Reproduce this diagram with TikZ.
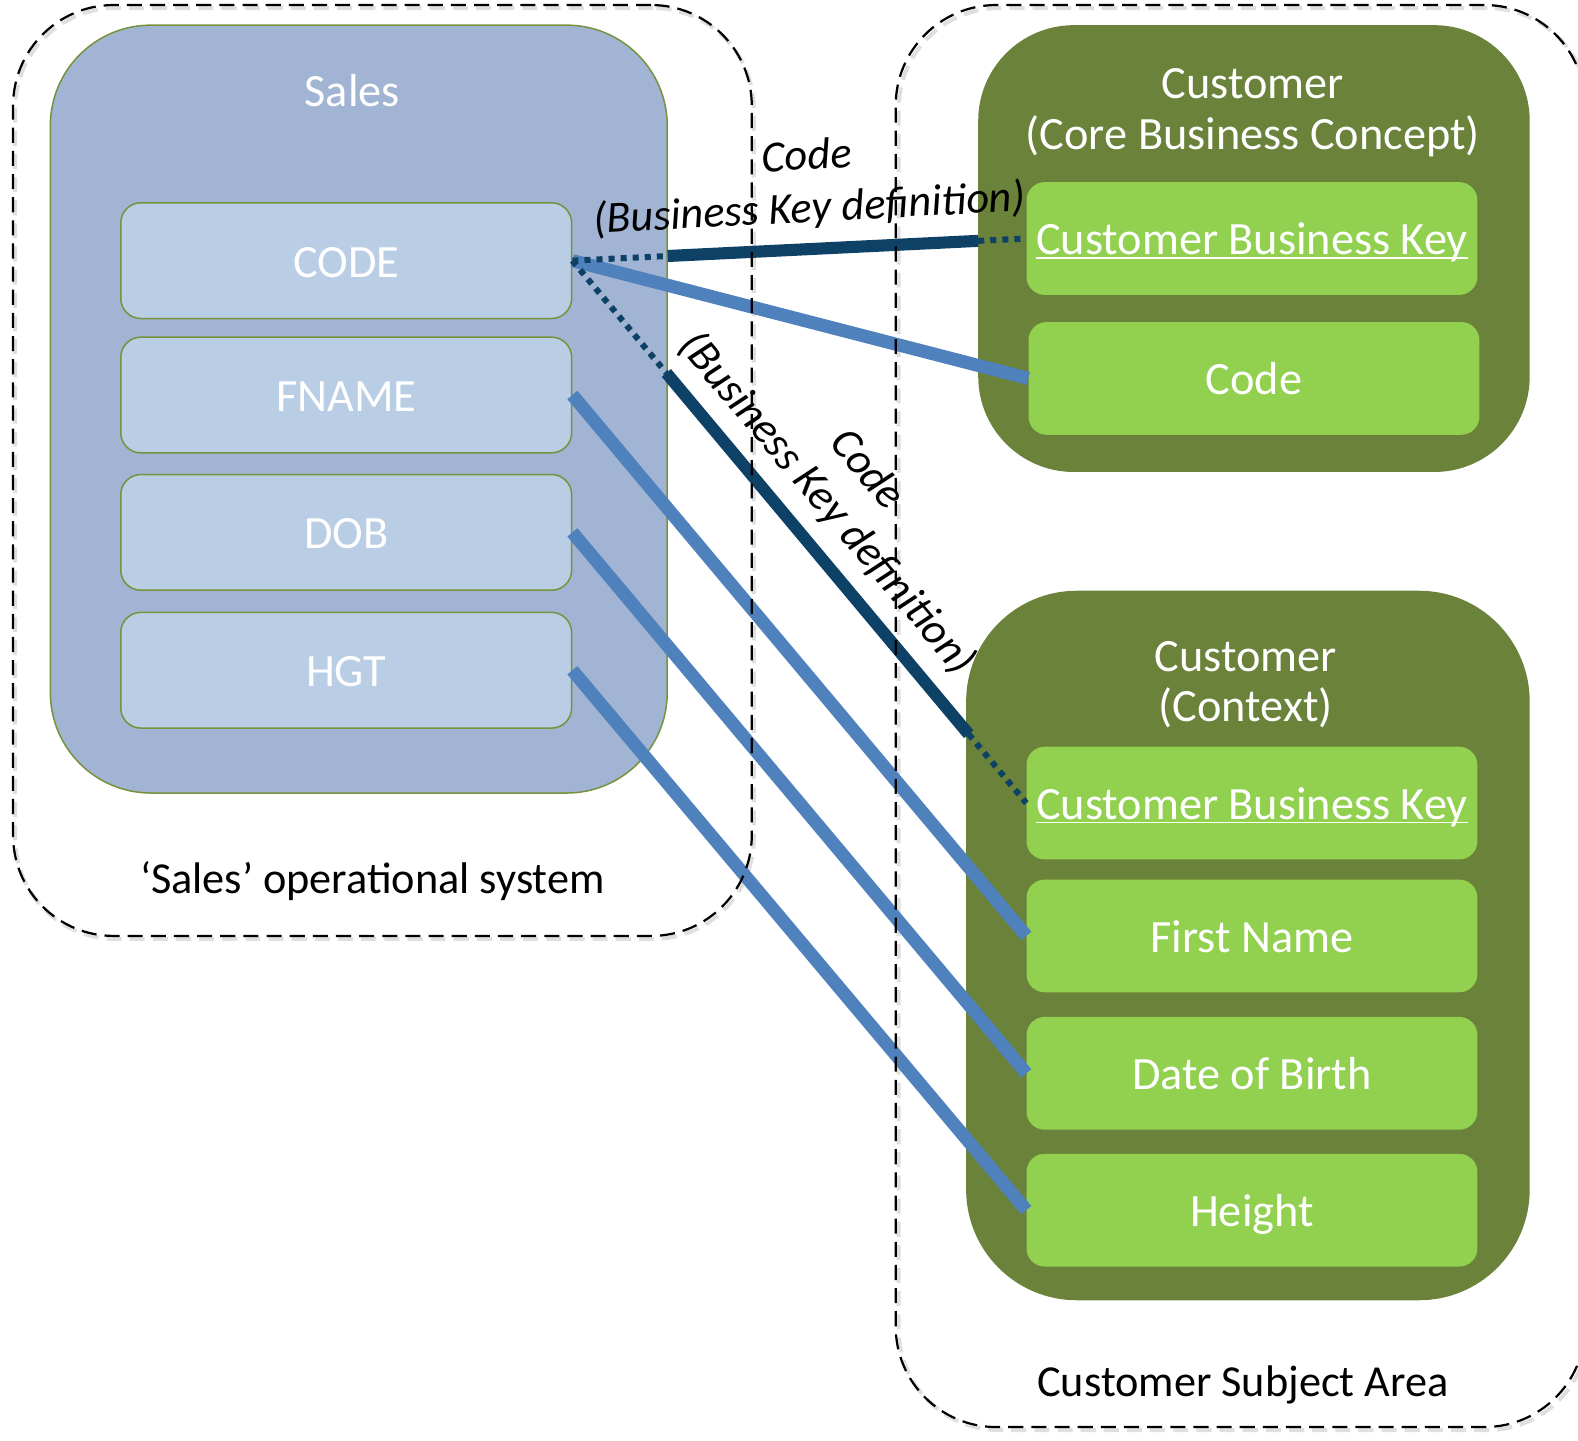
\documentclass[tikz,border=0pt]{standalone}
\usepackage{fontspec}
\setmainfont{Carlito}
\definecolor{cSales}{RGB}{161,180,212}
\definecolor{cOlive}{RGB}{118,146,60}
\definecolor{cField}{RGB}{185,205,229}
\definecolor{cDark}{RGB}{106,130,58}
\definecolor{cLight}{RGB}{146,208,80}
\definecolor{cLink}{RGB}{79,129,189}
\definecolor{cNavy}{RGB}{14,65,102}
\newcommand\myul[1]{\setbox0\hbox{#1}\rlap{\rule[-4pt]{\wd0}{1.6pt}}\box0}
\tikzset{
  cont/.style={rectangle, draw=black, line width=2.2pt, dash pattern=on 15pt off 8pt, rounded corners=100pt, inner sep=0pt},
  contshadow/.style={rectangle, draw=black!25, line width=4pt, dash pattern=on 15pt off 8pt, rounded corners=100pt, inner sep=0pt, opacity=0.5},
  system/.style={rectangle, draw=cOlive, line width=1.5pt, fill=cSales, rounded corners=100pt, inner sep=0pt},
  field/.style={rectangle, draw=cOlive, line width=1.5pt, fill=cField, rounded corners=20pt, minimum width=448pt, minimum height=115pt, inner sep=0pt, text=white, text height=41pt, text depth=8pt, font=\fontsize{46}{52}\selectfont},
  concept/.style={rectangle, fill=cDark, inner sep=0pt},
  attr/.style={rectangle, fill=cLight, rounded corners=18pt, minimum width=448pt, minimum height=112pt, inner sep=0pt, text=white, text height=40pt, text depth=8pt, font=\fontsize{46}{52}\selectfont},
  title/.style={text=white, align=center, inner sep=0pt, font=\fontsize{46}{50}\selectfont},
  caption/.style={text=black, inner sep=0pt, font=\fontsize{44}{50}\selectfont},
  link/.style={draw=cLink, line width=13pt},
  keylink/.style={draw=cNavy, line width=12pt},
  dotlink/.style={draw=cNavy, line width=6pt, dash pattern=on 6pt off 6pt},
  linklabel/.style={text=black, align=center, inner sep=0pt, font=\fontsize{44}{52}\selectfont\itshape},
}
\begin{document}
\begin{tikzpicture}[x=1pt,y=-1pt]
\useasboundingbox (0,0) rectangle (1568,1431);
% containers (shadows)
\node[contshadow, minimum width=734pt, minimum height=925pt] at (382,470.5) {};
\node[contshadow, minimum width=685pt, minimum height=1413pt] at (1235.5,714.5) {};
% Sales system
\node[system, minimum width=613pt, minimum height=763pt] (sales) at (356.5,406.5) {};
\node[title] (salesT) at (350,90) {Sales};
\node[field] (code) at (344,259) {CODE};
\node[field] (fname) at (344,392.5) {FNAME};
\node[field] (dob) at (344,529) {DOB};
\node[field] (hgt) at (344,666) {HGT};
% Core business concept
\node[concept, rounded corners=95pt, minimum width=548pt, minimum height=444pt] (cbc) at (1246,247) {};
\node[title] (cbcT) at (1245,112) {Customer\\(Core Business Concept)};
\node[attr] (cbk1) at (1244,237) {\myul{Customer Business Key}};
\node[attr] (codeR) at (1246,376) {Code};
% Context
\node[concept, rounded corners=110pt, minimum width=560pt, minimum height=705pt] (ctx) at (1240,939.5) {};
\node[title] (ctxT) at (1238,680.5) {Customer\\(Context)};
\node[attr] (cbk2) at (1244,798) {\myul{Customer Business Key}};
\node[attr] (first) at (1244,930) {First Name};
\node[attr] (birth) at (1244,1066.5) {Date of Birth};
\node[attr] (height) at (1244,1202.5) {Height};
% connectors
\draw[link] (code.east) -- (codeR.west);
\draw[link] (fname.east) -- (first.west);
\draw[link] (dob.east) -- (birth.west);
\draw[link] (hgt.east) -- (height.west);
\path (code.east) -- (cbk1.west) coordinate[pos=0.21] (k1a) coordinate[pos=0.894] (k1b);
\draw[dotlink] (code.east) -- (k1a);
\draw[keylink] (k1a) -- (k1b);
\draw[dotlink] (k1b) -- (cbk1.west);
\path (code.east) -- (cbk2.west) coordinate[pos=0.207] (k2a) coordinate[pos=0.873] (k2b);
\draw[dotlink] (code.east) -- (k2a);
\draw[keylink] (k2a) -- (k2b);
\draw[dotlink] (k2b) -- (cbk2.west);
% connector labels
\node[linklabel, rotate=3] (lab1) at (803,183) {Code\\(Business Key definition)};
\node[linklabel, rotate=-49.8] (lab2) at (841,484) {Code\\(Business Key definition)};
% containers
\node[cont, minimum width=734pt, minimum height=925pt] (salesArea) at (380,467.5) {};
\node[cont, minimum width=685pt, minimum height=1413pt] (custArea) at (1232.5,711.5) {};
\node[caption] (salesCap) at (370,876) {`Sales' operational system};
\node[caption] (custCap) at (1235,1376) {Customer Subject Area};
\end{tikzpicture}
\end{document}
